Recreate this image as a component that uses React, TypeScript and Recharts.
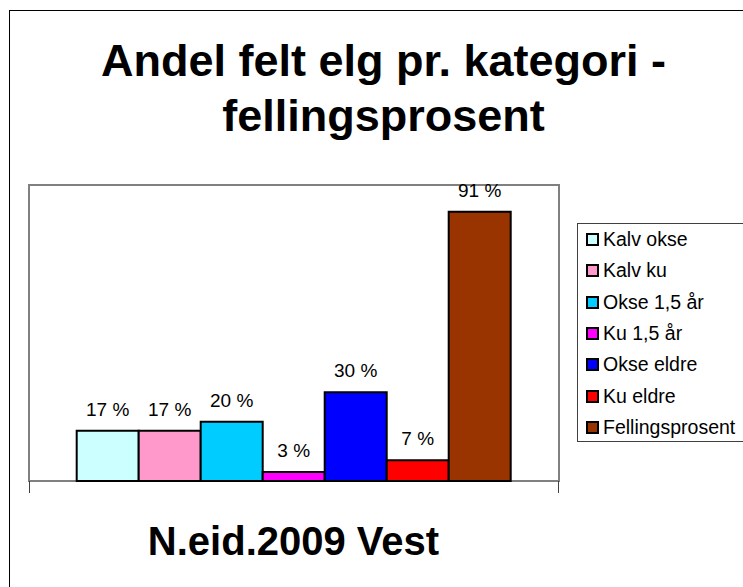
import React from 'react';
import {
  BarChart,
  Bar,
  XAxis,
  YAxis,
  Legend,
  LabelList,
  ReferenceArea
} from 'recharts';

const FONT = '"Liberation Sans", Arial, sans-serif';

const categories = ['N.eid.2009 Vest'];
const seriesNames = [
  'Kalv okse',
  'Kalv ku',
  'Okse 1,5 år',
  'Ku 1,5 år',
  'Okse eldre',
  'Ku eldre',
  'Fellingsprosent'
];
const seriesValues = [17, 17, 20, 3, 30, 7, 91];
const seriesColors = ['#ccffff', '#ff99cc', '#00ccff', '#ff00ff', '#0000ff', '#ff0000', '#993300'];

// one row per category, one key per series
const data = categories.map((cat) => {
  const row: Record<string, string | number> = { name: cat };
  seriesNames.forEach((s, i) => {
    row[s] = seriesValues[i];
  });
  return row;
});

function LegendBox() {
  return (
    <div
      style={{
        border: '1px solid #404040',
        background: '#fff',
        width: 200,
        height: 219,
        boxSizing: 'border-box',
        paddingTop: 0,
        fontFamily: FONT
      }}
    >
      {seriesNames.map((s, i) => (
        <div key={s} style={{ display: 'flex', alignItems: 'center', height: 31.3, paddingLeft: 8 }}>
          <span
            style={{
              display: 'inline-block',
              width: 13,
              height: 13,
              boxSizing: 'border-box',
              border: '2px solid #000',
              background: seriesColors[i],
              marginRight: 4
            }}
          />
          <span style={{ fontSize: 19.5, color: '#000', whiteSpace: 'nowrap' }}>{s}</span>
        </div>
      ))}
    </div>
  );
}

export default function App() {
  return (
    <div
      style={{
        position: 'absolute',
        left: 0,
        top: 0,
        width: 743,
        height: 587,
        overflow: 'hidden',
        background: '#fff',
        fontFamily: FONT
      }}
    >
      {/* outer frame, runs off the right and bottom edges */}
      <div
        style={{
          position: 'absolute',
          left: 9,
          top: 10,
          width: 900,
          height: 800,
          border: '1px solid #000'
        }}
      />

      {/* Title */}
      <div
        style={{
          position: 'absolute',
          left: 0,
          top: 33,
          width: 767,
          textAlign: 'center',
          fontSize: 45,
          lineHeight: '55px',
          fontWeight: 'bold',
          color: '#000'
        }}
      >
        Andel felt elg pr. kategori -<br />
        fellingsprosent
      </div>

      <div style={{ position: 'absolute', left: 0, top: 0 }}>
        <BarChart
          width={743}
          height={587}
          data={data}
          margin={{ top: 185, right: 184, bottom: 106, left: 29 }}
          barGap={0}
          barCategoryGap="9%"
        >
          <XAxis
            dataKey="name"
            tick={false}
            tickLine={false}
            axisLine={{ stroke: '#404040', strokeWidth: 2 }}
            height={0}
          />
          <YAxis hide domain={[0, 100]} />
          <ReferenceArea y1={0} y2={100} fill="none" stroke="#808080" strokeWidth={2} />
          {seriesNames.map((s, i) => (
            <Bar
              key={s}
              dataKey={s}
              name={s}
              fill={seriesColors[i]}
              stroke="#000"
              strokeWidth={2}
              isAnimationActive={false}
            >
              <LabelList
                dataKey={s}
                position="top"
                offset={15}
                formatter={(v: number) => `${v} %`}
                style={{ fontSize: 19, fill: '#000', fontFamily: FONT }}
              />
            </Bar>
          ))}
          <Legend
            layout="vertical"
            align="center"
            verticalAlign="middle"
            content={() => <LegendBox />}
            wrapperStyle={{ left: 577, top: 223, width: 200, height: 219 }}
          />
        </BarChart>
      </div>

      {/* end ticks on the category axis */}
      <div style={{ position: 'absolute', left: 29, top: 481, width: 1, height: 12, background: '#404040' }} />
      <div style={{ position: 'absolute', left: 558, top: 481, width: 1, height: 12, background: '#404040' }} />

      {/* category label under the chart */}
      <div
        style={{
          position: 'absolute',
          left: 0,
          top: 521,
          width: 587,
          textAlign: 'center',
          fontSize: 40,
          lineHeight: '40px',
          fontWeight: 'bold',
          color: '#000'
        }}
      >
        {categories[0]}
      </div>
    </div>
  );
}
